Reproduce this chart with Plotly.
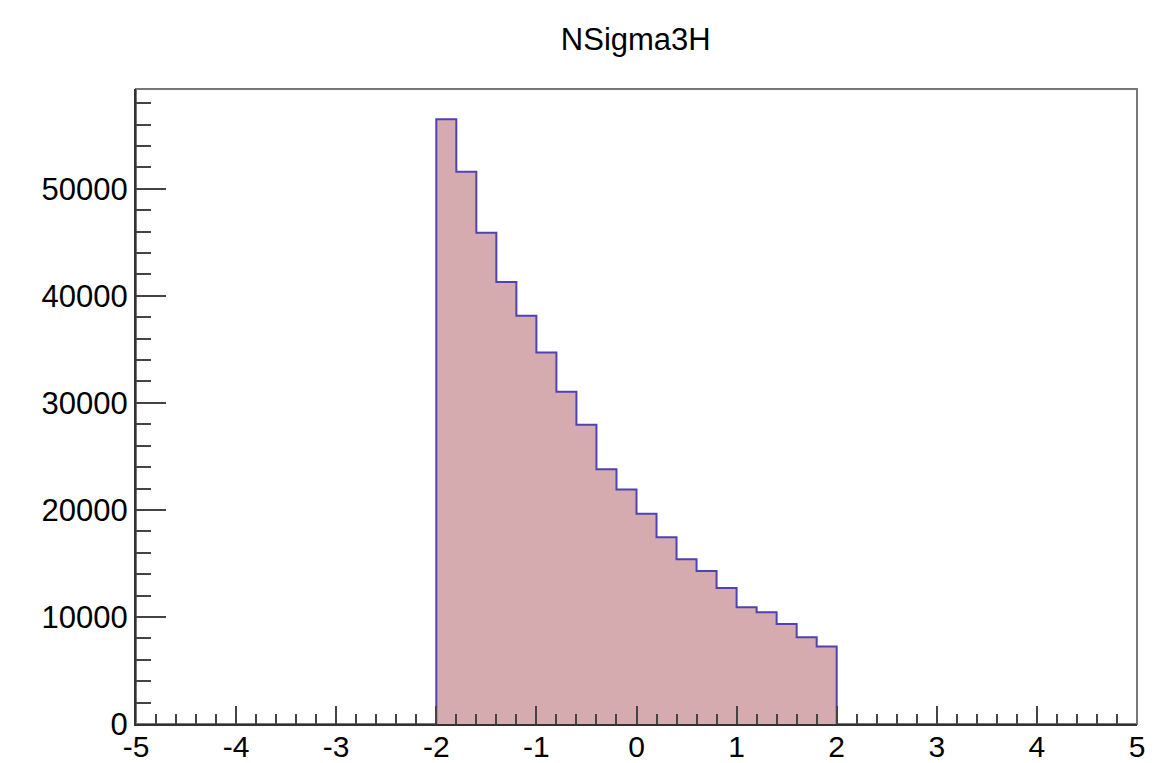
import numpy as np
import plotly.graph_objects as go

# Histogram NSigma3H: 20 bins of width 0.2 from -2 to 2
bin_low = -2.0
bin_width = 0.2
counts = [56500, 51600, 45900, 41300, 38150, 34700, 31050, 27950, 23800, 21900,
          19650, 17450, 15400, 14300, 12700, 10900, 10450, 9350, 8100, 7250]
x_ticks = [-5, -4, -3, -2, -1, 0, 1, 2, 3, 4, 5]
y_ticks = [0, 10000, 20000, 30000, 40000, 50000]
title_text = "NSigma3H"

n = len(counts)
edges = bin_low + bin_width * np.arange(n + 1)
step_x = np.concatenate([[edges[0]], edges[:-1], [edges[-1]]])
step_y = np.concatenate([[0], counts, [0]])

fig = go.Figure()
fig.add_trace(go.Scatter(
    x=step_x, y=step_y, mode="lines", line_shape="hv",
    line=dict(color="#4f43b3", width=2),
    fill="tozeroy", fillcolor="#d5abaf",
    hoverinfo="skip", showlegend=False,
))

ymax = 1.05 * max(counts)
font = "Liberation Sans, Arial, sans-serif"

fig.update_layout(
    width=1173, height=763,
    margin=dict(l=136, r=36, t=89, b=39),
    paper_bgcolor="white", plot_bgcolor="white",
    title=dict(text=title_text, x=0.542, xanchor="center", y=0.949, yanchor="middle",
               font=dict(family=font, size=31, color="black")),
    showlegend=False,
    shapes=[dict(type="rect", xref="paper", yref="paper", x0=0, y0=0, x1=1, y1=1,
                 line=dict(color="#777777", width=2), layer="below")],
)
fig.update_xaxes(
    range=[-5, 5], tickvals=x_ticks, ticktext=[str(v) for v in x_ticks],
    ticks="inside", ticklen=18, tickwidth=2, tickcolor="#444444",
    minor=dict(dtick=0.2, ticks="inside", ticklen=10, tickwidth=2, tickcolor="#444444"),
    showline=True, linecolor="#333333", linewidth=2,
    showgrid=False, zeroline=False, automargin=False,
    ticklabelstandoff=-5,
    tickfont=dict(family=font, size=30, color="black"),
)
fig.update_yaxes(
    range=[0, ymax], tickvals=y_ticks, ticktext=[str(v) for v in y_ticks],
    ticks="inside", ticklen=30, tickwidth=2, tickcolor="#444444",
    minor=dict(dtick=2000, ticks="inside", ticklen=15, tickwidth=2, tickcolor="#444444"),
    showline=True, linecolor="#333333", linewidth=2,
    showgrid=False, zeroline=False, automargin=False,
    tickfont=dict(family=font, size=31, color="black"),
)

fig.write_html("out.html")
